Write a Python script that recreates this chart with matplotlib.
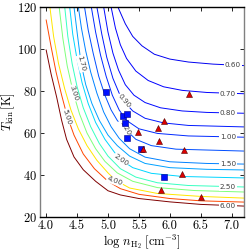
import matplotlib
matplotlib.use("Agg")
import matplotlib.pyplot as plt
import matplotlib.cm as cm
import matplotlib.colors as colors

plt.rcParams['font.family'] = 'cmr10'
plt.rcParams['mathtext.fontset'] = 'cm'
plt.rcParams['axes.formatter.use_mathtext'] = True

# contour lines: log n_H2 and T_kin for each level
n_060 = [5.16, 5.28, 5.40, 5.55, 5.75, 6.0, 6.3, 6.7, 7.2]
t_060 = [120, 112, 106, 101.5, 97.5, 95.2, 93.8, 92.8, 92.1]
n_070 = [5.05, 5.12, 5.20, 5.30, 5.45, 5.65, 5.9, 6.2, 6.6, 7.2]
t_070 = [120, 110, 102, 95.5, 89.5, 85, 82, 80.3, 79.3, 78.7]
n_080 = [4.93, 5.0, 5.08, 5.17, 5.28, 5.42, 5.6, 5.85, 6.2, 6.6, 7.2]
t_080 = [120, 108, 98, 90, 83, 78, 74.5, 72, 70.5, 69.8, 69.4]
n_090 = [4.82, 4.9, 4.98, 5.08, 5.18, 5.26, 5.4, 5.6, 5.9, 6.3, 7.2]
t_090 = [120, 107, 96, 86, 79, 75, 70.5, 67, 64.8, 63.6, 62.9]
n_100 = [4.73, 4.8, 4.88, 4.97, 5.07, 5.18, 5.3, 5.5, 5.8, 6.3, 7.2]
t_100 = [120, 108, 97, 87, 78, 71, 66, 62, 59.8, 58.6, 58.0]
n_120 = [4.62, 4.68, 4.76, 4.85, 4.95, 5.05, 5.15, 5.27, 5.45, 5.7, 6.1, 7.2]
t_120 = [120, 109, 98, 87, 78, 71, 66, 62, 57, 54, 52.3, 51.4]
n_150 = [4.52, 4.57, 4.64, 4.72, 4.82, 4.93, 5.05, 5.18, 5.35, 5.6, 6.0, 6.6, 7.2]
t_150 = [120, 110, 99, 89, 79, 70, 63, 57.5, 52.5, 48.5, 46.3, 45.5, 45.2]
n_170 = [4.45, 4.50, 4.565, 4.64, 4.74, 4.86, 5.0, 5.15, 5.35, 5.6, 6.0, 6.6, 7.2]
t_170 = [120, 108, 93, 83, 74, 66, 59, 54, 49, 45.5, 43.5, 42.7, 42.4]
n_200 = [4.38, 4.43, 4.50, 4.58, 4.68, 4.80, 4.95, 5.1, 5.21, 5.4, 5.7, 6.2, 7.2]
t_200 = [120, 107, 95, 84, 74, 65, 57, 51, 47.2, 43.5, 40.8, 39.3, 38.6]
n_250 = [4.30, 4.35, 4.42, 4.5, 4.6, 4.72, 4.86, 5.0, 5.2, 5.45, 5.8, 6.3, 7.2]
t_250 = [120, 106, 93, 82, 72, 63, 55, 49, 43, 39, 36.3, 35, 34.3]
n_300 = [4.21, 4.27, 4.34, 4.44, 4.54, 4.66, 4.8, 4.95, 5.15, 5.4, 5.8, 6.4, 7.2]
t_300 = [120, 105, 92, 79, 69, 60, 52.5, 46.5, 41, 37, 34, 32.6, 31.9]
n_400 = [4.06, 4.12, 4.2, 4.3, 4.4, 4.52, 4.66, 4.82, 5.0, 5.12, 5.35, 5.8, 6.5, 7.2]
t_400 = [120, 106, 93, 81, 71, 62, 54, 47, 41, 37.5, 33.8, 31.2, 29.8, 29.0]
n_500 = [4.0, 4.08, 4.16, 4.25, 4.34, 4.45, 4.6, 4.78, 5.0, 5.2, 5.5, 6.0, 6.5, 7.2]
t_500 = [113.8, 101, 89, 78, 68, 59, 50, 43, 37, 33.5, 30.8, 28.8, 27.7, 27.1]
n_600 = [4.0, 4.08, 4.17, 4.25, 4.33, 4.45, 4.6, 4.8, 5.0, 5.2, 5.5, 6.0, 6.5, 7.2]
t_600 = [99.5, 88, 77, 66, 57, 48.6, 42.5, 37, 32.5, 30.5, 28.8, 27.2, 26.0, 25.2]

levels = [0.6, 0.7, 0.8, 0.9, 1.0, 1.2, 1.5, 1.7, 2.0, 2.5, 3.0, 4.0, 5.0, 6.0]
lines_n = [n_060, n_070, n_080, n_090, n_100, n_120, n_150, n_170, n_200, n_250, n_300, n_400, n_500, n_600]
lines_t = [t_060, t_070, t_080, t_090, t_100, t_120, t_150, t_170, t_200, t_250, t_300, t_400, t_500, t_600]

# inline labels: level, position, angle
lab_val = [0.6, 0.7, 0.8, 1.0, 1.5, 2.5, 6.0, 0.9, 1.2, 1.7, 2.0, 3.0, 4.0, 5.0]
lab_n = [7.02, 6.94, 6.94, 6.94, 6.94, 6.94, 6.94, 5.26, 5.27, 4.565, 5.21, 4.44, 5.11, 4.34]
lab_t = [92.4, 78.8, 69.5, 58.1, 45.2, 34.3, 25.2, 75.2, 62.4, 93.0, 47.1, 79.0, 37.0, 67.6]
lab_rot = [0, 0, 0, 0, 0, 0, 0, -50, -60, -75, -35, -72, -20, -72]

# observed sources
sq_n = [4.97, 5.25, 5.31, 5.27, 5.30, 5.53, 5.91]
sq_t = [79.3, 68.1, 69.0, 64.6, 57.4, 52.4, 39.0]
tri_n = [6.31, 5.90, 5.49, 5.81, 5.83, 5.57, 6.23, 6.20, 5.85, 6.50]
tri_t = [78.4, 65.9, 60.6, 62.4, 56.2, 52.4, 52.1, 40.4, 32.7, 29.5]

fig = plt.figure(figsize=(2.5, 2.5), dpi=100)
ax = fig.add_axes([0.16, 0.132, 0.816, 0.84])

norm = colors.Normalize(vmin=0, vmax=6)
cmap = cm.jet
for lev, xs, ys in zip(levels, lines_n, lines_t):
    ax.plot(xs, ys, color=cmap(norm(lev)), lw=0.7, zorder=2)

for v, x, y, r in zip(lab_val, lab_n, lab_t, lab_rot):
    ax.text(x, y, f'{v:.2f}', fontsize=5.2, family='DejaVu Sans', color='0.25',
            rotation=r, rotation_mode='anchor', ha='center', va='center', zorder=3,
            bbox=dict(facecolor='white', edgecolor='none', pad=0.4))

ax.plot(sq_n, sq_t, 's', color='#0010ff', mec='#000080', mew=0.4, ms=4, zorder=5)
ax.plot(tri_n, tri_t, '^', color='#dd0000', mec='#500000', mew=0.4, ms=4, zorder=5)

ax.set_xlim(3.9, 7.2)
ax.set_ylim(20, 120)
ax.set_xticks([4.0, 4.5, 5.0, 5.5, 6.0, 6.5, 7.0])
ax.set_xticklabels(['4.0', '4.5', '5.0', '5.5', '6.0', '6.5', '7.0'])
ax.set_yticks([20, 40, 60, 80, 100, 120])
ax.tick_params(direction='in', top=True, right=True, length=3, width=0.6,
               labelsize=9, pad=2)
ax.set_xlabel(r'$\log\,n_{\rm H_2}\;[{\rm cm^{-3}}]$', fontsize=9, labelpad=0)
ax.set_ylabel(r'$T_{\rm kin}\,[{\rm K}]$', fontsize=9, labelpad=0)
for s in ax.spines.values():
    s.set_linewidth(1.0)
ax.spines['left'].set_color('0.5')
ax.spines['right'].set_color('0.5')

fig.savefig('out.png', dpi=100)
